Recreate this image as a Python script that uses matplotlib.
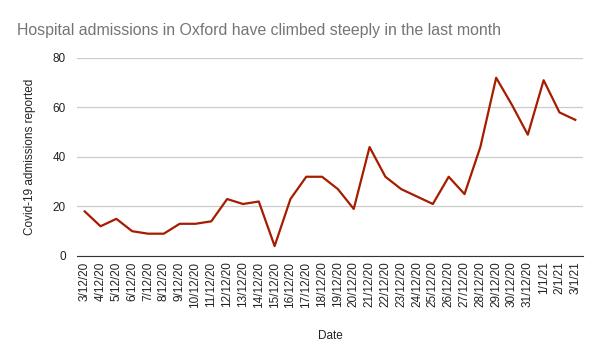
import matplotlib.pyplot as plt

plt.rcParams['font.family'] = ['Liberation Sans', 'DejaVu Sans']

dates = ['3/12/20', '4/12/20', '5/12/20', '6/12/20', '7/12/20', '8/12/20', '9/12/20',
         '10/12/20', '11/12/20', '12/12/20', '13/12/20', '14/12/20', '15/12/20',
         '16/12/20', '17/12/20', '18/12/20', '19/12/20', '20/12/20', '21/12/20',
         '22/12/20', '23/12/20', '24/12/20', '25/12/20', '26/12/20', '27/12/20',
         '28/12/20', '29/12/20', '30/12/20', '31/12/20', '1/1/21', '2/1/21', '3/1/21']
admissions = [18, 12, 15, 10, 9, 9, 13, 13, 14, 23, 21, 22, 4, 23, 32, 32, 27, 19, 44,
              32, 27, 24, 21, 32, 25, 44, 72, 61, 49, 71, 58, 55]
yticks = [0, 20, 40, 60, 80]

fig = plt.figure(figsize=(6, 3.6), dpi=100)
ax = fig.add_axes([0.128, 0.289, 0.844, 0.550])
x = list(range(len(dates)))
ax.plot(x, admissions, color='#a61c00', lw=1.6, zorder=3)

ax.set_xlim(-0.5, len(dates) - 0.5)
ax.set_ylim(0, 80)
ax.set_yticks(yticks)
ax.set_xticks(x)
ax.set_xticklabels(dates, rotation=90, fontsize=8.5, color='#222222')
ax.tick_params(axis='y', labelsize=8.5, colors='#222222', length=0, pad=8)
ax.tick_params(axis='x', length=0, pad=4)
ax.grid(axis='y', color='#cccccc', lw=0.9)
for s in ['top', 'right', 'left']:
    ax.spines[s].set_visible(False)
ax.spines['bottom'].set_color('#333333')
ax.spines['bottom'].set_zorder(4)

ax.set_ylabel('Covid-19 admissions reported', fontsize=8.5, color='#222222', labelpad=12)
ax.set_xlabel('Date', fontsize=8.5, color='#222222', labelpad=16)
fig.text(0.028, 0.915, 'Hospital admissions in Oxford have climbed steeply in the last month',
         fontsize=11.4, color='#757575', va='center', ha='left')

plt.savefig('out.png', dpi=100)
